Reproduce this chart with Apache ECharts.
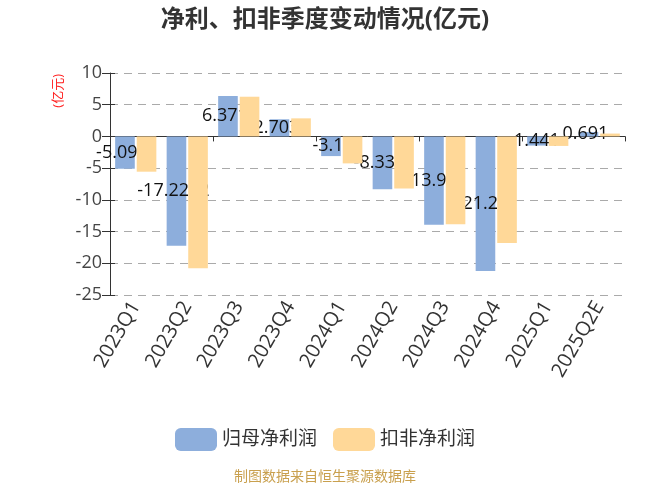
<!DOCTYPE html>
<html>
<head>
<meta charset="utf-8">
<script src="https://cdn.jsdelivr.net/npm/echarts@6/dist/echarts.min.js"></script>
<style>html,body{margin:0;padding:0;background:#fff;}#c{width:650px;height:488px;}</style>
</head>
<body>
<div id="c"></div>
<script>
var categories = ['2023Q1','2023Q2','2023Q3','2023Q4','2024Q1','2024Q2','2024Q3','2024Q4','2025Q1','2025Q2E'];
var netProfit = [-5.091, -17.2222, 6.371, 2.703, -3.1, -8.331, -13.91, -21.23, -1.441, 0.691];
var deductedProfit = [-5.56, -20.8, 6.26, 2.85, -4.25, -8.2, -13.85, -16.8, -1.5, 0.45];
var yTicks = {min: -25, max: 10, interval: 5};
var seriesNames = ['归母净利润', '扣非净利润'];

var FONT = '"Open Sans", "Noto Sans CJK SC", sans-serif';
var chart = echarts.init(document.getElementById('c'), null, {renderer: 'canvas'});
chart.setOption({
  animation: false,
  backgroundColor: '#fff',
  textStyle: {fontFamily: FONT},
  title: {
    text: '净利、扣非季度变动情况(亿元)',
    left: 'center',
    top: 3,
    textStyle: {fontSize: 24, fontWeight: 'bold', color: '#333', fontFamily: FONT}
  },
  legend: {
    data: seriesNames,
    left: 'center',
    top: 423,
    itemWidth: 42,
    itemHeight: 23,
    itemGap: 16,
    icon: 'roundRect',
    textStyle: {fontSize: 19, color: '#333', fontFamily: FONT}
  },
  grid: {left: 110, right: 25, top: 73, bottom: 193},
  graphic: [
    {
      type: 'text',
      left: 52,
      top: 74,
      rotation: Math.PI / 2,
      style: {text: '(亿元)', fill: '#ff2020', font: '13px ' + FONT}
    },
    {
      type: 'text',
      left: 'center',
      top: 470,
      style: {text: '制图数据来自恒生聚源数据库', fill: '#c9a04e', font: '14px ' + FONT}
    }
  ],
  xAxis: [
    {
      type: 'category',
      data: categories,
      position: 'bottom',
      axisLine: {show: false, onZero: false},
      axisTick: {show: false},
      axisLabel: {rotate: 60, interval: 0, fontSize: 20, color: '#333', margin: 8, fontFamily: FONT},
      splitLine: {show: false}
    },
    {
      type: 'category',
      data: categories,
      position: 'bottom',
      axisLine: {show: true, onZero: true, lineStyle: {color: '#333', width: 1}},
      axisTick: {show: true, length: 5, lineStyle: {color: '#333'}},
      axisLabel: {show: false},
      splitLine: {show: false}
    }
  ],
  yAxis: [
    {
      type: 'value',
      position: 'left',
      min: yTicks.min,
      max: yTicks.max,
      interval: yTicks.interval,
      axisLine: {show: true, lineStyle: {color: '#333'}},
      axisTick: {show: true, length: 8, lineStyle: {color: '#333'}},
      axisLabel: {fontSize: 18, color: '#444', margin: 8, fontFamily: FONT},
      splitLine: {show: true, lineStyle: {color: '#aaa', type: [8, 6], width: 1}}
    },
    {
      type: 'value',
      position: 'left',
      min: yTicks.min,
      max: yTicks.max,
      interval: yTicks.interval,
      axisLine: {show: false},
      axisTick: {show: true, inside: true, length: 5, lineStyle: {color: '#333'}},
      axisLabel: {show: false},
      splitLine: {show: false}
    }
  ],
  series: [
    {
      name: seriesNames[0],
      type: 'bar',
      xAxisIndex: 0,
      yAxisIndex: 0,
      data: netProfit,
      z: 2,
      barGap: '10%',
      barCategoryGap: '20%',
      itemStyle: {color: '#8daedc'},
      label: {show: true, position: 'inside', offset: [-3, 0], color: '#111', fontSize: 18, fontFamily: FONT}
    },
    {
      name: seriesNames[1],
      type: 'bar',
      xAxisIndex: 0,
      yAxisIndex: 0,
      data: deductedProfit,
      z: 4,
      barGap: '10%',
      barCategoryGap: '20%',
      itemStyle: {color: '#ffd898'}
    }
  ]
});
</script>
</body>
</html>
